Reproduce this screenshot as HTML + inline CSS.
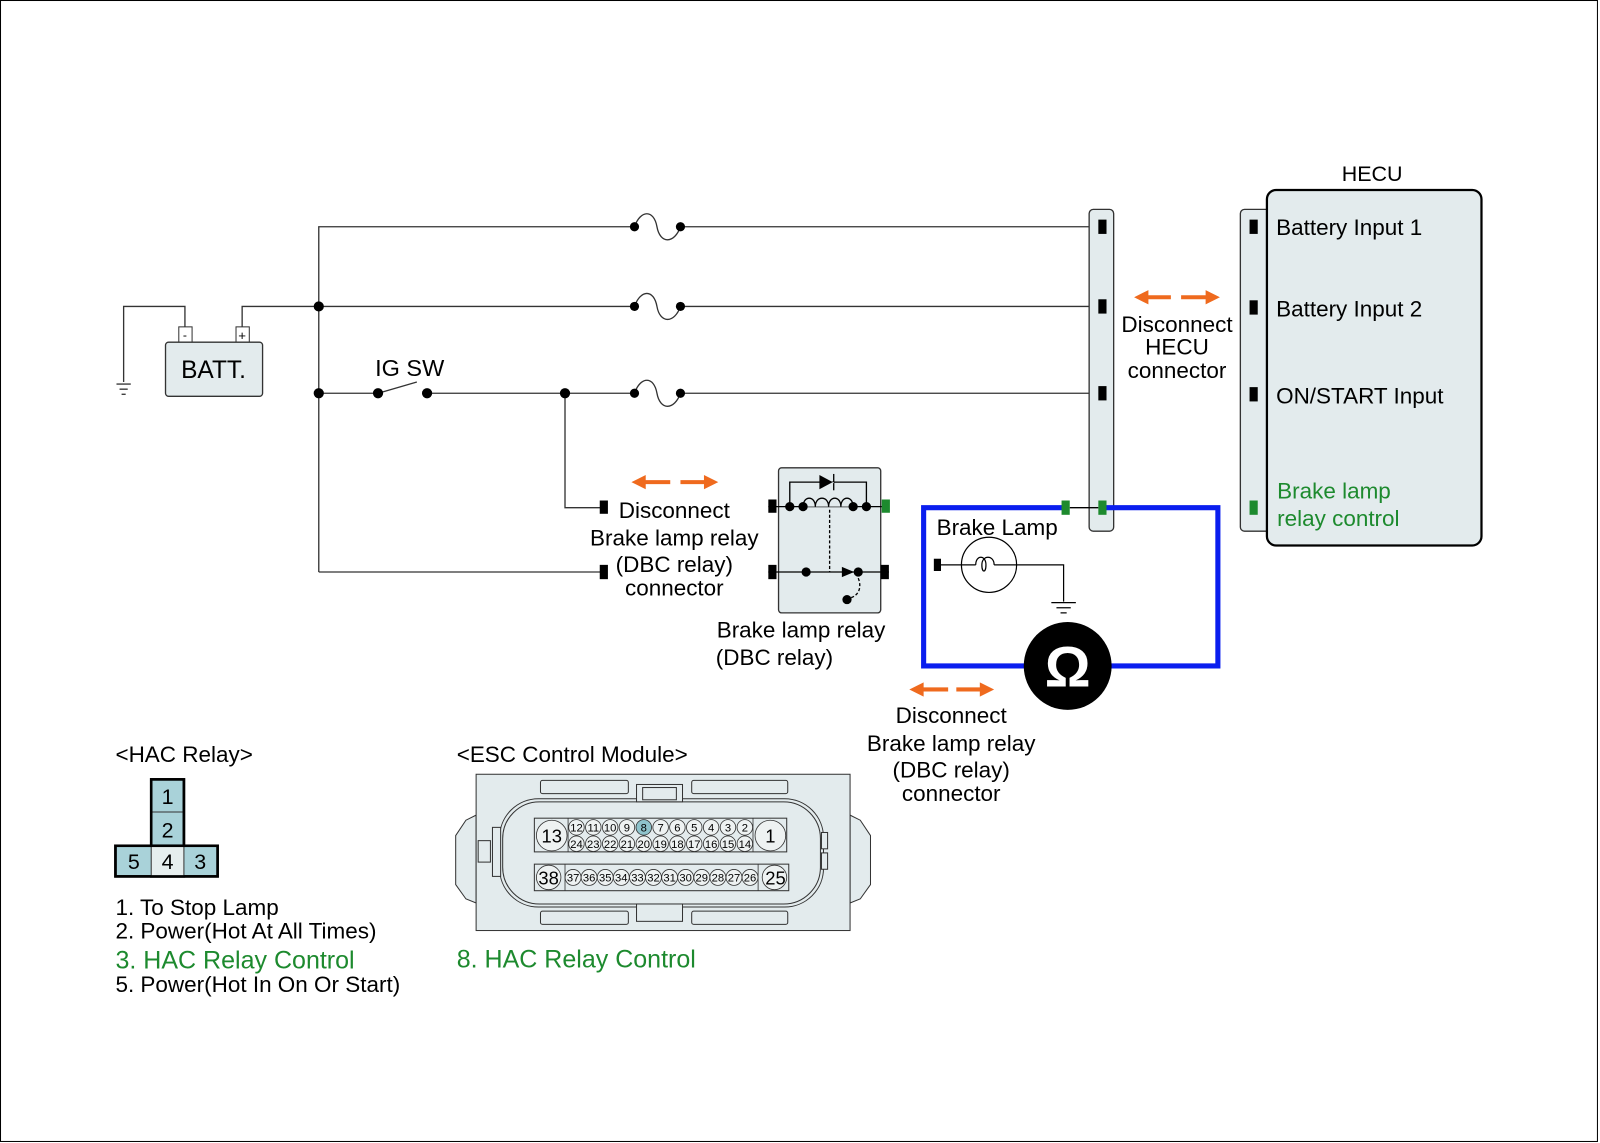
<!DOCTYPE html>
<html><head><meta charset="utf-8"><style>
html,body{margin:0;padding:0;background:#fff;}
svg{display:block;}
text{font-family:"Liberation Sans",Arial,sans-serif;}
</style></head><body>
<svg width="1600" height="1143" viewBox="0 0 1566 1119" preserveAspectRatio="none" xmlns="http://www.w3.org/2000/svg">
<rect x="0.5" y="0.5" width="1563" height="1117" fill="#fff" stroke="#000" stroke-width="1"/>
<g stroke="#333" stroke-width="1.3" fill="none">
<polyline points="312,560 312,222 621,222"/>
<line x1="666" y1="222" x2="1078" y2="222"/>
<polyline points="237,320 237,300 621,300"/>
<line x1="666" y1="300" x2="1078" y2="300"/>
<line x1="312" y1="385" x2="370" y2="385"/>
<line x1="418" y1="385" x2="621" y2="385"/>
<line x1="666" y1="385" x2="1078" y2="385"/>
<polyline points="553,385 553,497 590,497"/>
<line x1="312" y1="560" x2="590" y2="560"/>
<polyline points="181,320 181,300 121,300 121,374"/>
<line x1="114" y1="376" x2="128" y2="376"/><line x1="117" y1="381" x2="125" y2="381"/><line x1="119" y1="386" x2="123" y2="386"/>
<path d="M621,222 C627,205 640,205 643,222 C646,239 660,239 666,222"/>
<path d="M621,300 C627,283 640,283 643,300 C646,317 660,317 666,300"/>
<path d="M621,385 C627,368 640,368 643,385 C646,402 660,402 666,385"/>
<line x1="370" y1="385" x2="408" y2="374"/>
</g>
<g fill="#000">
<circle cx="312" cy="300" r="5"/><circle cx="312" cy="385" r="5"/><circle cx="553" cy="385" r="5"/>
<circle cx="370" cy="385" r="5"/><circle cx="418" cy="385" r="5"/>
<circle cx="621" cy="222" r="4.5"/><circle cx="666" cy="222" r="4.5"/>
<circle cx="621" cy="300" r="4.5"/><circle cx="666" cy="300" r="4.5"/>
<circle cx="621" cy="385" r="4.5"/><circle cx="666" cy="385" r="4.5"/>
<rect x="587" y="490" width="8" height="13"/><rect x="587" y="553" width="8" height="14"/>
</g>
<rect x="175" y="320" width="13" height="15" fill="#fff" stroke="#333"/>
<rect x="231" y="320" width="13" height="15" fill="#fff" stroke="#333"/>
<text x="181" y="332" font-size="12" text-anchor="middle">-</text>
<text x="237" y="333" font-size="13" text-anchor="middle">+</text>
<rect x="162" y="335" width="95" height="53" rx="3" fill="#e3ebed" stroke="#333" stroke-width="1.3"/>
<text x="209" y="370" font-size="24" text-anchor="middle">BATT.</text>
<text x="401" y="368" font-size="23" text-anchor="middle">IG SW</text>
<g stroke="#ef6a1e" stroke-width="4" fill="#ef6a1e">
<line x1="628" y1="472" x2="656" y2="472"/><path d="M618,472 L632,465 L632,479z" stroke="none"/>
<line x1="666" y1="472" x2="692" y2="472"/><path d="M703,472 L689,465 L689,479z" stroke="none"/>
<line x1="900" y1="675" x2="928" y2="675"/><path d="M890,675 L904,668 L904,682z" stroke="none"/>
<line x1="936" y1="675" x2="962" y2="675"/><path d="M973,675 L959,668 L959,682z" stroke="none"/>
<line x1="1120" y1="291" x2="1146" y2="291"/><path d="M1110,291 L1124,284 L1124,298z" stroke="none"/>
<line x1="1156" y1="291" x2="1183" y2="291"/><path d="M1194,291 L1180,284 L1180,298z" stroke="none"/>
</g>
<g font-size="22" text-anchor="middle">
<text x="660" y="507">Disconnect</text>
<text x="660" y="534">Brake lamp relay</text>
<text x="660" y="560">(DBC relay)</text>
<text x="660" y="583">connector</text>
<text x="784" y="624">Brake lamp relay</text>
<text x="758" y="651">(DBC relay)</text>
<text x="931" y="708">Disconnect</text>
<text x="931" y="735">Brake lamp relay</text>
<text x="931" y="761">(DBC relay)</text>
<text x="931" y="784">connector</text>
<text x="1152" y="325">Disconnect</text>
<text x="1152" y="347">HECU</text>
<text x="1152" y="370">connector</text>
<text x="1343" y="177" font-size="21">HECU</text>
</g>
<!-- relay -->
<rect x="762" y="458" width="100" height="142" rx="3" fill="#e3ebed" stroke="#333" stroke-width="1.3"/>
<g stroke="#000" stroke-width="1.3" fill="none">
<line x1="752" y1="496" x2="870" y2="496"/>
<polyline points="773,496 773,472 848,472 848,496"/>
<line x1="816" y1="464" x2="816" y2="480"/>
<path d="M786,496 c0,-11 12,-11 12,0 c0,-11 13,-11 13,0 c0,-11 12,-11 12,0 c0,-11 12,-11 12,0" fill="#e3ebed"/>
<line x1="752" y1="560" x2="870" y2="560"/>
<line x1="812" y1="499" x2="812" y2="560" stroke-dasharray="3,2"/>
<path d="M840,566 C844,576 840,584 830,586" stroke-dasharray="3,2"/>
</g>
<rect x="805" y="472" width="11" height="1" fill="#e3ebed"/>
<path d="M815,472 L802,465 L802,479z" fill="#000"/>
<path d="M836,560 L824,555 L824,565z" fill="#000"/>
<g fill="#000">
<circle cx="773" cy="496" r="4.5"/><circle cx="786" cy="496" r="4.5"/><circle cx="835" cy="496" r="4.5"/><circle cx="848" cy="496" r="4.5"/>
<circle cx="789" cy="560" r="4.5"/><circle cx="840" cy="560" r="4.5"/><circle cx="829" cy="587" r="4.5"/>
<rect x="752" y="489" width="8" height="13"/><rect x="752" y="553" width="8" height="14"/><rect x="862" y="553" width="8" height="14"/>
</g>
<rect x="863" y="489" width="8" height="13" fill="#1d8a2e"/>
<rect x="1066" y="205" width="24" height="315" rx="4" fill="#e3ebed" stroke="#333" stroke-width="1.3"/>
<g stroke="#0a1eef" stroke-width="5" fill="none">
<polyline points="1040,497 904,497 904,652 1010,652"/>
<polyline points="1082,497 1192,497 1192,652 1080,652"/>
</g>
<line x1="1047" y1="497" x2="1075" y2="497" stroke="#000" stroke-width="1.3"/>
<g fill="#000"><rect x="1075" y="215" width="8" height="14"/><rect x="1075" y="293" width="8" height="14"/><rect x="1075" y="378" width="8" height="14"/></g>
<rect x="1075" y="490" width="8" height="14" fill="#1d8a2e"/><rect x="1039" y="490" width="8" height="14" fill="#1d8a2e"/>
<text x="976" y="524" font-size="22" text-anchor="middle">Brake Lamp</text>
<g stroke="#000" stroke-width="1.2" fill="none">
<line x1="918" y1="553" x2="955" y2="553"/>
<circle cx="968" cy="553" r="27"/>
<path d="M955,553 c0,-10 10,-10 10,0 c0,8 -4,8 -4,0 c0,-10 12,-10 12,0"/>
<polyline points="973,553 1041,553 1041,589"/>
<line x1="1029" y1="590" x2="1053" y2="590"/><line x1="1034" y1="595" x2="1048" y2="595"/><line x1="1038" y1="600" x2="1044" y2="600"/>
</g>
<rect x="914" y="547" width="7" height="12" fill="#000"/>
<circle cx="1045" cy="652" r="43" fill="#000"/>
<text x="1045" y="672" font-size="56" font-weight="bold" fill="#fff" text-anchor="middle">Ω</text>
<rect x="1214" y="205" width="40" height="315" rx="4" fill="#e3ebed" stroke="#333" stroke-width="1.3"/>
<rect x="1240" y="186" width="210" height="348" rx="9" fill="#e3ebed" stroke="#000" stroke-width="2.2"/>
<g fill="#000"><rect x="1223" y="215" width="8" height="14"/><rect x="1223" y="294" width="8" height="14"/><rect x="1223" y="379" width="8" height="14"/></g>
<rect x="1223" y="490" width="8" height="14" fill="#1d8a2e"/>
<g font-size="22">
<text x="1249" y="230">Battery Input 1</text>
<text x="1249" y="310">Battery Input 2</text>
<text x="1249" y="395">ON/START Input</text>
<text x="1250" y="488" fill="#1d8a2e">Brake lamp</text>
<text x="1250" y="515" fill="#1d8a2e">relay control</text>
</g>
<text x="113" y="746" font-size="22">&lt;HAC Relay&gt;</text>
<rect x="148" y="763" width="32" height="95" fill="#a9d2d9" stroke="#000" stroke-width="2.5"/>
<rect x="113" y="828" width="100" height="30" fill="#a9d2d9" stroke="#000" stroke-width="2.5"/>
<rect x="148" y="828" width="32" height="30" fill="#e6eeee"/>
<line x1="148" y1="795" x2="180" y2="795" stroke="#333" stroke-width="1"/>
<line x1="148" y1="828" x2="148" y2="858" stroke="#333" stroke-width="1"/><line x1="180" y1="828" x2="180" y2="858" stroke="#333" stroke-width="1"/>
<rect x="148" y="763" width="32" height="65" fill="none" stroke="#000" stroke-width="2.5"/>
<rect x="113" y="828" width="100" height="30" fill="none" stroke="#000" stroke-width="2.5"/>
<g font-size="21" text-anchor="middle"><text x="164" y="787">1</text><text x="164" y="820">2</text><text x="131" y="851">5</text><text x="164" y="851">4</text><text x="196" y="851">3</text></g>
<g font-size="22">
<text x="113" y="896">1. To Stop Lamp</text>
<text x="113" y="919">2. Power(Hot At All Times)</text>
<text x="113" y="948" font-size="24.5" fill="#1d8a2e">3. HAC Relay Control</text>
<text x="113" y="971">5. Power(Hot In On Or Start)</text>
</g>
<text x="447" y="746" font-size="22">&lt;ESC Control Module&gt;</text>
<text x="447" y="947" font-size="24.5" fill="#1d8a2e">8. HAC Relay Control</text>
<g stroke="#333" stroke-width="1" fill="#e3ebed">
<path d="M456,803 L446,818 L446,866 L456,880 L466,884 L466,798z"/>
<path d="M832,798 L842,803 L852,818 L852,866 L842,880 L832,884z"/>
<rect x="466" y="758" width="366" height="153"/>
<rect x="529" y="764" width="86" height="13" rx="2"/><rect x="677" y="764" width="94" height="13" rx="2"/>
<rect x="529" y="892" width="86" height="13" rx="2"/><rect x="677" y="892" width="94" height="13" rx="2"/>
<rect x="489" y="782" width="317" height="106" rx="38"/>
<rect x="492" y="785" width="311" height="100" rx="36" fill="none"/>
<rect x="623" y="768" width="45" height="17"/><rect x="629" y="771" width="33" height="12" fill="none"/>
<rect x="623" y="885" width="45" height="17"/>
<rect x="468" y="823" width="12" height="21"/><rect x="482" y="810" width="8" height="48"/>
<rect x="804" y="815" width="6" height="16"/><rect x="804" y="835" width="6" height="16"/>
<rect x="523" y="801" width="247" height="33"/>
<rect x="523" y="846" width="249" height="26"/>
</g>
<g stroke="#333" stroke-width="0.8" fill="#eef2f2">
<circle cx="540" cy="818" r="15"/><circle cx="754" cy="818" r="15"/>
<circle cx="537" cy="859" r="12"/><circle cx="758" cy="859" r="12"/>
<line x1="556" y1="801" x2="556" y2="834"/><line x1="737" y1="801" x2="737" y2="834"/>
<line x1="553" y1="846" x2="553" y2="872"/><line x1="742" y1="846" x2="742" y2="872"/>
</g>
<g font-size="18" text-anchor="middle"><text x="540" y="825">13</text><text x="754" y="825">1</text><text x="537" y="866">38</text><text x="759" y="866">25</text></g>
<g stroke="#333" stroke-width="0.8" fill="#eef2f2">
<circle cx="564.2" cy="810" r="7.6"/><circle cx="580.7" cy="810" r="7.6"/><circle cx="597.2" cy="810" r="7.6"/><circle cx="613.6" cy="810" r="7.6"/><circle cx="630.1" cy="810" r="7.6" fill="#8ec3cc"/><circle cx="646.6" cy="810" r="7.6"/><circle cx="663" cy="810" r="7.6"/><circle cx="679.5" cy="810" r="7.6"/><circle cx="696" cy="810" r="7.6"/><circle cx="712.5" cy="810" r="7.6"/><circle cx="729" cy="810" r="7.6"/>
<circle cx="564.2" cy="826" r="7.6"/><circle cx="580.7" cy="826" r="7.6"/><circle cx="597.2" cy="826" r="7.6"/><circle cx="613.6" cy="826" r="7.6"/><circle cx="630.1" cy="826" r="7.6"/><circle cx="646.6" cy="826" r="7.6"/><circle cx="663" cy="826" r="7.6"/><circle cx="679.5" cy="826" r="7.6"/><circle cx="696" cy="826" r="7.6"/><circle cx="712.5" cy="826" r="7.6"/><circle cx="729" cy="826" r="7.6"/>
<circle cx="560.9" cy="859" r="7.8"/><circle cx="576.6" cy="859" r="7.8"/><circle cx="592.4" cy="859" r="7.8"/><circle cx="608.1" cy="859" r="7.8"/><circle cx="623.9" cy="859" r="7.8"/><circle cx="639.6" cy="859" r="7.8"/><circle cx="655.4" cy="859" r="7.8"/><circle cx="671.1" cy="859" r="7.8"/><circle cx="686.9" cy="859" r="7.8"/><circle cx="702.6" cy="859" r="7.8"/><circle cx="718.4" cy="859" r="7.8"/><circle cx="734.1" cy="859" r="7.8"/>
</g>
<g font-size="11" text-anchor="middle">
<text x="564.2" y="814">12</text><text x="580.7" y="814">11</text><text x="597.2" y="814">10</text><text x="613.6" y="814">9</text><text x="630.1" y="814">8</text><text x="646.6" y="814">7</text><text x="663" y="814">6</text><text x="679.5" y="814">5</text><text x="696" y="814">4</text><text x="712.5" y="814">3</text><text x="729" y="814">2</text>
<text x="564.2" y="830">24</text><text x="580.7" y="830">23</text><text x="597.2" y="830">22</text><text x="613.6" y="830">21</text><text x="630.1" y="830">20</text><text x="646.6" y="830">19</text><text x="663" y="830">18</text><text x="679.5" y="830">17</text><text x="696" y="830">16</text><text x="712.5" y="830">15</text><text x="729" y="830">14</text>
<text x="560.9" y="863">37</text><text x="576.6" y="863">36</text><text x="592.4" y="863">35</text><text x="608.1" y="863">34</text><text x="623.9" y="863">33</text><text x="639.6" y="863">32</text><text x="655.4" y="863">31</text><text x="671.1" y="863">30</text><text x="686.9" y="863">29</text><text x="702.6" y="863">28</text><text x="718.4" y="863">27</text><text x="734.1" y="863">26</text>
</g>
</svg>
</body></html>
